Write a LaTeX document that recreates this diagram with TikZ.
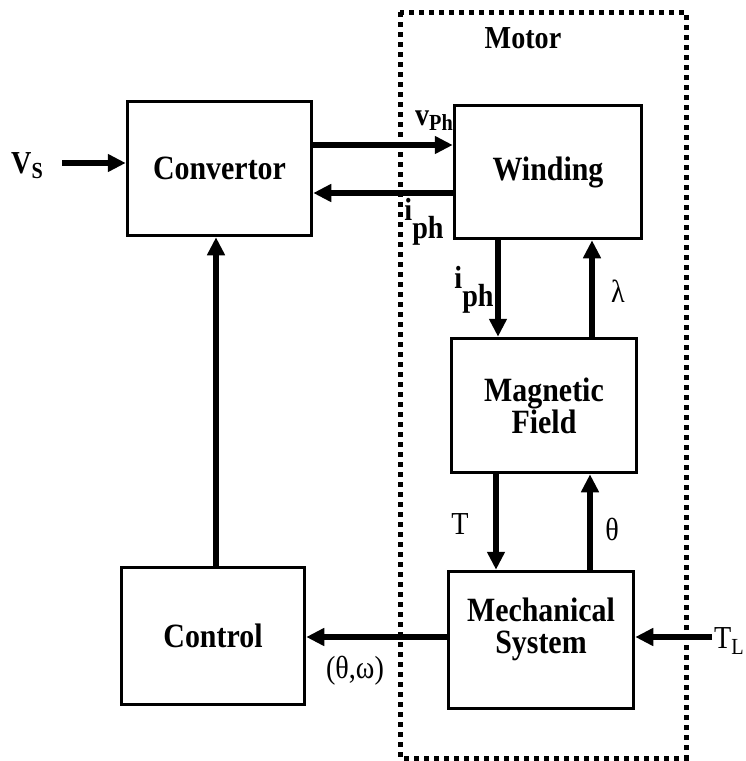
\documentclass[tikz,border=0pt]{standalone}
\usepackage{fontspec}
\setmainfont{Liberation Serif}
\newfontfamily\condserif[FakeStretch=0.88]{Liberation Serif}
\usetikzlibrary{arrows.meta}
\tikzset{
  blockbox/.style={draw, line width=3.5pt, inner sep=0pt, align=center,
    font=\condserif\fontsize{34}{32}\selectfont\bfseries},
  sig/.style={line width=6pt, -{Triangle[length=18pt,width=17pt]}},
  lbl/.style={inner sep=0pt, font=\condserif\fontsize{32}{34}\selectfont},
  blbl/.style={inner sep=0pt, font=\condserif\fontsize{32}{34}\selectfont\bfseries},
  motorframe/.style={line width=5pt, dash pattern=on 5pt off 5pt}
}
\newcommand{\subsc}[1]{\raisebox{-0.35ex}{\fontsize{23}{24}\selectfont #1}}
\begin{document}
\begin{tikzpicture}[x=1pt,y=-1pt]
\useasboundingbox (0,0) rectangle (746,761);
% motor frame
\draw[motorframe] (400,12) rectangle (686,758);
\node[blbl] (motorlbl) at (523,38) {Motor};
% blocks
\node[blockbox, minimum width=184pt, minimum height=134pt] (conv) at (219.5,168.5) {Convertor};
\node[blockbox, minimum width=187pt, minimum height=133pt] (wind) at (548,172) {Winding};
\node[blockbox, minimum width=185pt, minimum height=134pt] (mag) at (544,405.5) {Magnetic\\Field};
\node[blockbox, minimum width=185pt, minimum height=137pt] (mech) at (541,640) {Mechanical\\System\\[-4pt]\mbox{}};
\node[blockbox, minimum width=183pt, minimum height=137pt] (ctrl) at (213,636) {Control};
% free ends
\coordinate (vsin) at (62,163);
\coordinate (tlin) at (712,637);
% connectors
\draw[sig] (vsin) -- (conv.west |- vsin);
\draw[sig] (conv.east |- 0,145) -- (wind.west |- 0,145);
\draw[sig] (wind.west |- 0,193) -- (conv.east |- 0,193);
\draw[sig] (wind.south -| 498,0) -- (mag.north -| 498,0);
\draw[sig] (mag.north -| 592,0) -- (wind.south -| 592,0);
\draw[sig] (mag.south -| 496,0) -- (mech.north -| 496,0);
\draw[sig] (mech.north -| 590,0) -- (mag.south -| 590,0);
\draw[sig] (tlin) -- (mech.east |- tlin);
\draw[sig] (mech.west |- 0,637) -- (ctrl.east |- 0,637);
\draw[sig] (ctrl.north -| 216,0) -- (conv.south -| 216,0);
% labels
\node[blbl] (vslbl) at (27,166) {V\subsc{S}};
\node[blbl] (vphlbl) at (434,121) {v\subsc{Ph}};
\node[blbl] (iphlbl) at (424,222) {i\raisebox{-0.55em}{ph}};
\node[blbl] (iphdlbl) at (474,290) {i\raisebox{-0.55em}{ph}};
\node[lbl] (lamlbl) at (618,291) {λ};
\node[lbl] (tlbl) at (460,524) {T};
\node[lbl] (thlbl) at (612,529) {θ};
\node[lbl] (tllbl) at (729,641) {T\subsc{L}};
\node[lbl] (twlbl) at (355,671) {(θ,ω)};
\end{tikzpicture}
\end{document}
